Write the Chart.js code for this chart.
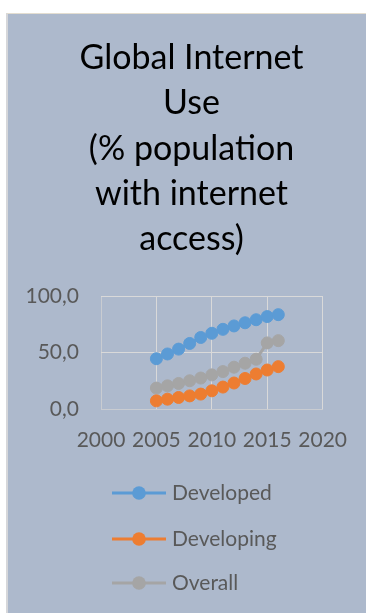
<!DOCTYPE html>
<html>
<head>
<meta charset="utf-8">
<script src="https://cdn.jsdelivr.net/npm/chart.js@4.4.1/dist/chart.umd.min.js"></script>
<style>
  html, body { margin: 0; padding: 0; background: #ffffff; }
  body { width: 366px; height: 613px; position: relative; overflow: hidden; }
  #frame {
    position: absolute; left: 6px; top: 13px; width: 358px; height: 599px;
    border-left: 2px solid #d6d7da; border-top: 1px solid #e3ddd0;
    background: #adb9cc;
  }
  canvas { display: block; }
</style>
</head>
<body>
<div id="frame"><canvas id="chart" width="358" height="599"></canvas></div>
<script>
// Internet users, % of population, by year
const years      = [2005, 2006, 2007, 2008, 2009, 2010, 2011, 2012, 2013, 2014, 2015, 2016];
const developed  = [44.5, 48.7, 53.0, 58.0, 63.3, 67.0, 70.5, 73.5, 76.3, 79.0, 81.8, 83.5];
const developing = [7.2, 8.7, 10.2, 11.6, 13.2, 16.1, 19.4, 23.0, 27.0, 31.0, 34.5, 37.5];
const overall    = [18.5, 20.5, 22.6, 25.0, 27.4, 30.2, 33.1, 37.0, 40.5, 44.0, 58.5, 60.5];

const seriesNames  = ['Developed', 'Developing', 'Overall'];
const seriesColors = ['#5b9bd5', '#ed7d31', '#a5a5a5'];
const titleLines   = ['Global Internet', 'Use', '(% population', 'with internet', 'access)'];

const toPoints = vals => vals.map((v, i) => ({ x: years[i], y: v }));

const FONT = 'Lato';
const TEXT_GREY = '#595959';

// Five-line heading centred over the whole panel
const panelTitle = {
  id: 'panelTitle',
  afterDraw(chart) {
    const ctx = chart.ctx;
    const baselines = [55, 100, 146, 191, 236];
    ctx.save();
    ctx.fillStyle = '#000000';
    ctx.font = '34px ' + FONT;
    ctx.textAlign = 'center';
    ctx.textBaseline = 'alphabetic';
    titleLines.forEach((line, i) => ctx.fillText(line, 183.5, baselines[i]));
    ctx.restore();
  }
};

// Vertical legend under the x axis: line + marker, then the series name
const stackedLegend = {
  id: 'stackedLegend',
  afterDraw(chart) {
    const ctx = chart.ctx;
    const base = chart.chartArea.bottom;
    const offsets = [84, 130, 174];
    ctx.save();
    chart.data.datasets.forEach((ds, i) => {
      const y = base + offsets[i];
      ctx.strokeStyle = ds.borderColor;
      ctx.lineWidth = 3;
      ctx.beginPath();
      ctx.moveTo(104, y);
      ctx.lineTo(158, y);
      ctx.stroke();
      ctx.fillStyle = ds.borderColor;
      ctx.beginPath();
      ctx.arc(131, y, 6.8, 0, Math.PI * 2);
      ctx.fill();
      ctx.fillStyle = TEXT_GREY;
      ctx.font = '21px ' + FONT;
      ctx.textAlign = 'left';
      ctx.textBaseline = 'middle';
      ctx.fillText(ds.label, 164, y);
    });
    ctx.restore();
  }
};

const datasets = [developed, developing, overall].map((vals, i) => ({
  label: seriesNames[i],
  data: toPoints(vals),
  borderColor: seriesColors[i],
  backgroundColor: seriesColors[i],
  pointBackgroundColor: seriesColors[i],
  pointBorderColor: seriesColors[i],
  pointBorderWidth: 1,
  pointRadius: 6,
  borderWidth: 3,
  showLine: true,
  tension: 0
}));

new Chart(document.getElementById('chart'), {
  type: 'scatter',
  data: { datasets },
  options: {
    responsive: false,
    animation: false,
    events: [],
    layout: { padding: { left: 0, right: 43, top: 282, bottom: 0 } },
    plugins: {
      legend: { display: false },
      tooltip: { enabled: false },
      title: { display: false }
    },
    scales: {
      x: {
        type: 'linear',
        min: 2000, max: 2020,
        afterFit(scale) { scale.height = 204; },
        ticks: {
          stepSize: 5,
          padding: 19,
          color: TEXT_GREY,
          font: { family: FONT, size: 21 },
          callback: v => String(v)
        },
        grid: {
          color: ctx => (ctx.index === 0 ? '#c9ccd1' : '#d9d9d9'),
          lineWidth: 1,
          drawTicks: false
        },
        border: { display: true, color: '#c9ccd1', width: 1 }
      },
      y: {
        min: 0, max: 100,
        afterFit(scale) { scale.width = 93; },
        ticks: {
          stepSize: 50,
          padding: 22,
          color: TEXT_GREY,
          font: { family: FONT, size: 21 },
          callback: v => v.toFixed(1).replace('.', ',')
        },
        grid: { color: '#d9d9d9', lineWidth: 1, drawTicks: false },
        border: { display: false }
      }
    }
  },
  plugins: [panelTitle, stackedLegend]
});
</script>
</body>
</html>
